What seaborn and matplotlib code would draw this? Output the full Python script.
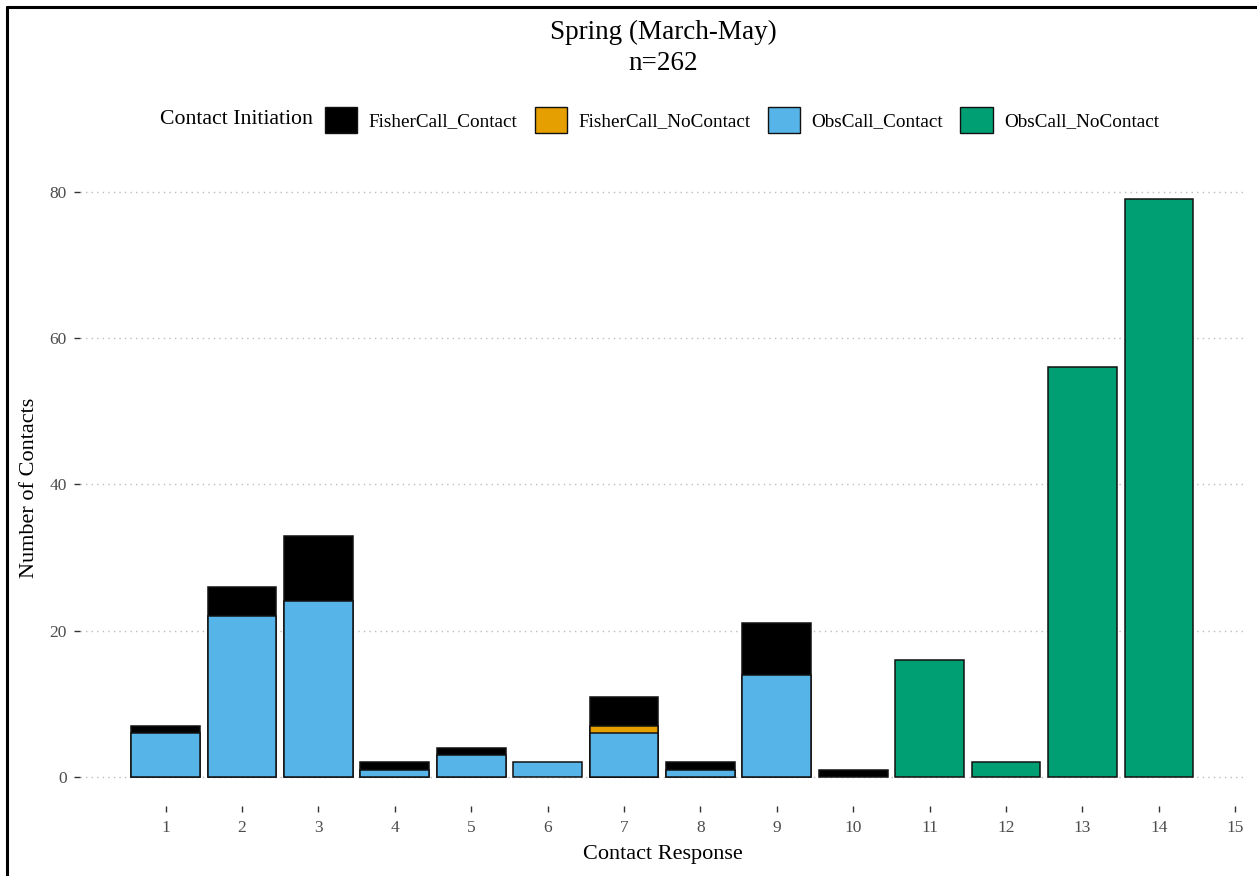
import pandas as pd
import matplotlib.pyplot as plt
import seaborn as sns
from matplotlib.patches import Patch
from matplotlib.lines import Line2D

# Data (counts per contact response code)
responses = [str(i) for i in range(1, 16)]
obs_contact = [6, 22, 24, 1, 3, 2, 6, 1, 14, 0, 0, 0, 0, 0, 0]
obs_nocontact = [0, 0, 0, 0, 0, 0, 0, 0, 0, 0, 16, 2, 56, 79, 0]
fisher_nocontact = [0, 0, 0, 0, 0, 0, 1, 0, 0, 0, 0, 0, 0, 0, 0]
fisher_contact = [1, 4, 9, 1, 1, 0, 4, 1, 7, 1, 0, 0, 0, 0, 0]

groups = ["FisherCall_Contact", "FisherCall_NoContact", "ObsCall_Contact", "ObsCall_NoContact"]
colors = {"FisherCall_Contact": "#000000", "FisherCall_NoContact": "#E69F00",
          "ObsCall_Contact": "#56B4E9", "ObsCall_NoContact": "#009E73"}

# Long table, stacked bottom -> top like ggplot (last level at bottom)
stack_order = ["ObsCall_NoContact", "ObsCall_Contact", "FisherCall_NoContact", "FisherCall_Contact"]
values = {"ObsCall_NoContact": obs_nocontact, "ObsCall_Contact": obs_contact,
          "FisherCall_NoContact": fisher_nocontact, "FisherCall_Contact": fisher_contact}
df = pd.concat([pd.DataFrame({"response": responses, "group": g, "count": values[g]})
                for g in stack_order], ignore_index=True)
df["group"] = pd.Categorical(df["group"], categories=stack_order, ordered=True)
df = df.sort_values(["response", "group"])
df["top"] = df.groupby("response", observed=True)["count"].cumsum()

sns.set_style("white")
plt.rcParams["font.family"] = ["Liberation Serif", "DejaVu Serif"]
plt.rcParams["text.color"] = "black"

W, H = 1257, 876
fig = plt.figure(figsize=(W / 100, H / 100), dpi=100)
left, right, bottom, top = 79.5, 1246, 806, 170
ax = fig.add_axes([left / W, 1 - bottom / H, (right - left) / W, (bottom - top) / H])

# draw the top layer first so lower segments overlay it
for g in reversed(stack_order):
    layer = df[(df["group"] == g) & (df["count"] > 0)]
    sns.barplot(data=layer, x="response", y="top", order=responses, color=colors[g],
                saturation=1, width=0.9, edgecolor="#111111", linewidth=1.1,
                errorbar=None, ax=ax)

ax.set_xlim(-1.126, 14.14)
ax.set_ylim(-3.95, 82.95)
ax.set_yticks([0, 20, 40, 60, 80])
ax.set_xlabel("")
ax.set_ylabel("")
for s in ax.spines.values():
    s.set_visible(False)
ax.yaxis.grid(True, linestyle=(0, (1, 3)), color="#bdbdbd", linewidth=1.0)
ax.xaxis.grid(False)
ax.set_axisbelow(True)
ax.tick_params(axis="both", bottom=True, left=True, length=4, width=1,
               color="#333333", labelcolor="#4d4d4d", labelsize=12.5)
ax.tick_params(axis="x", pad=6)
ax.tick_params(axis="y", pad=5)

# titles and axis labels
fig.text(663 / W, 1 - 32 / H, "Spring (March-May)", ha="center", va="center", fontsize=19.5)
fig.text(663 / W, 1 - 63 / H, "n=262", ha="center", va="center", fontsize=19.5)
fig.text(663 / W, 1 - 855 / H, "Contact Response", ha="center", va="center", fontsize=16)
fig.text(30 / W, 1 - 488 / H, "Number of Contacts", ha="center", va="center",
         rotation=90, fontsize=16)

# legend on top, title to the left
handles = [Patch(facecolor=colors[g], edgecolor="#111111", linewidth=1.0) for g in groups]
fig.legend(handles, groups, ncol=4, loc="center left", bbox_to_anchor=(325 / W, 1 - 120 / H),
           frameon=False, fontsize=13.8, handlelength=1.68, handleheight=1.68,
           handletextpad=0.6, columnspacing=0.9, borderpad=0, borderaxespad=0)
fig.text(313 / W, 1 - 120 / H, "Contact Initiation", ha="right", va="center", fontsize=15.7)

# outer frame (left and top edges visible in the reference)
fig.add_artist(Line2D([6.5 / W, 6.5 / W], [0, 1 - 6.5 / H], color="black", linewidth=2.2))
fig.add_artist(Line2D([6.5 / W, 1], [1 - 6.5 / H, 1 - 6.5 / H], color="black", linewidth=2.2))

fig.savefig("out.png", dpi=100)
